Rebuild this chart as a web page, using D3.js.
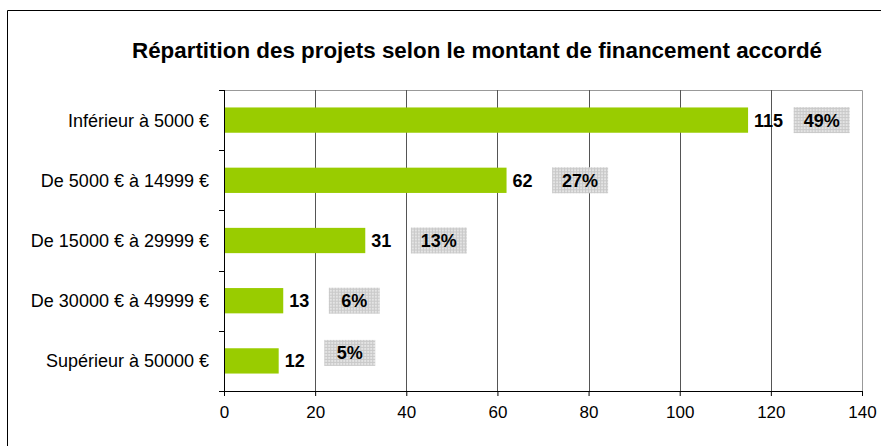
<!DOCTYPE html>
<meta charset="utf-8">
<head>
    <title>Répartition des projets</title>
    <script type="text/javascript" src="https://d3js.org/d3.v7.min.js"></script>
    <style>
        body { margin: 0; background: #fff; }
        svg { font-family: Arial, "Liberation Sans", sans-serif; }
        .cat text { font-size: 18px; fill: #000; }
    </style>
</head>
<body>
    <div id="chart"></div>
    <script>
        // data
        var categories = ["Inférieur à 5000 €", "De 5000 € à 14999 €", "De 15000 € à 29999 €",
                          "De 30000 € à 49999 €", "Supérieur à 50000 €"];
        var counts = [115, 62, 31, 13, 12];
        var shares = ["49%", "27%", "13%", "6%", "5%"];
        var xTicks = [0, 20, 40, 60, 80, 100, 120, 140];
        var title = "Répartition des projets selon le montant de financement accordé";

        var width = 881, height = 446;
        var margin = { top: 90, right: 19, bottom: 55, left: 224 };

        var svg = d3.select("#chart").append("svg")
                    .attr("width", width)
                    .attr("height", height);

        // pattern for the grey percent boxes
        var pat = svg.append("defs").append("pattern")
                     .attr("id", "grid")
                     .attr("width", 3).attr("height", 3)
                     .attr("patternUnits", "userSpaceOnUse");
        pat.append("rect").attr("width", 3).attr("height", 3).attr("fill", "#e4e4e4");
        pat.append("path").attr("d", "M0,0.5H3M0.5,0V3")
           .attr("stroke", "#c8c8c8").attr("stroke-width", 1);

        // outer frame (top + left visible)
        svg.append("path").attr("d", "M7.5,446V10.5H881")
           .attr("fill", "none").attr("stroke", "#000");

        svg.append("text")
           .attr("x", 132).attr("y", 58)
           .attr("font-weight", "bold")
           .attr("font-size", "22px")
           .attr("textLength", 690)
           .attr("lengthAdjust", "spacingAndGlyphs")
           .text(title);

        var x = d3.scaleLinear().domain([0, 140])
                  .range([margin.left, width - margin.right]);
        var y = d3.scaleBand().domain(categories)
                  .range([margin.top, height - margin.bottom])
                  .paddingInner(0.58).paddingOuter(0.29);

        var y0 = margin.top, y1 = height - margin.bottom;

        // plot frame
        svg.append("path")
           .attr("d", `M${x(0)},${y0 + 0.5}H${x(140) + 0.5}V${y1}`)
           .attr("fill", "none").attr("stroke", "#999");

        // gridlines
        svg.append("g").selectAll("line")
           .data(xTicks.slice(1, -1))
           .enter().append("line")
           .attr("x1", function(d) { return Math.round(x(d)) + 0.5; })
           .attr("x2", function(d) { return Math.round(x(d)) + 0.5; })
           .attr("y1", y0).attr("y2", y1)
           .attr("stroke", "#555");

        // bars
        svg.append("g").selectAll("rect")
           .data(counts)
           .enter().append("rect")
           .attr("x", x(0))
           .attr("y", function(d, i) { return y(categories[i]); })
           .attr("width", function(d) { return x(d) - x(0); })
           .attr("height", y.bandwidth())
           .attr("fill", "#99cc00");

        // value labels
        svg.append("g").selectAll("text")
           .data(counts)
           .enter().append("text")
           .attr("x", function(d) { return x(d) + 6; })
           .attr("y", function(d, i) { return y(categories[i]) + y.bandwidth() / 2; })
           .attr("dy", "0.36em")
           .attr("font-size", "18px")
           .attr("font-weight", "bold")
           .text(function(d) { return d; });

        // percent boxes
        var pct = svg.append("g").selectAll("g")
                     .data(shares)
                     .enter().append("g")
                     .attr("transform", function(d, i) {
                         var v = Math.max(counts[i] + 10, 22);
                         return `translate(${x(v)},${y(categories[i]) + y.bandwidth() / 2 - (i == 4 ? 8 : 0)})`;
                     });
        pct.append("rect")
           .attr("x", 0).attr("y", -13)
           .attr("width", function(d) { return d.length > 2 ? 56 : 51; })
           .attr("height", 26)
           .attr("fill", "url(#grid)");
        pct.append("text")
           .attr("x", function(d) { return d.length > 2 ? 28 : 25.5; })
           .attr("dy", "0.36em")
           .attr("text-anchor", "middle")
           .attr("font-size", "18px")
           .attr("font-weight", "bold")
           .text(function(d) { return d; });

        // x axis
        var xAxis = svg.append("g")
                       .attr("transform", `translate(0,${y1})`)
                       .call(d3.axisBottom(x).tickValues(xTicks).tickSize(5).tickSizeOuter(0));
        xAxis.select(".domain").attr("stroke", "#000");
        xAxis.selectAll(".tick line").attr("stroke", "#000");
        xAxis.selectAll("text").attr("font-size", "17px").attr("font-family", "Arial, 'Liberation Sans', sans-serif")
             .attr("fill", "#000").attr("dy", "1.1em");

        // y axis: ticks between categories
        var yAx = svg.append("g").attr("class", "cat");
        yAx.append("line")
           .attr("x1", x(0) + 0.5).attr("x2", x(0) + 0.5)
           .attr("y1", y0).attr("y2", y1 + 5)
           .attr("stroke", "#000");
        yAx.selectAll(".tk")
           .data(d3.range(categories.length + 1))
           .enter().append("line")
           .attr("class", "tk")
           .attr("x1", x(0) - 5).attr("x2", x(0))
           .attr("y1", function(i) { return Math.round(y0 + i * (y1 - y0) / categories.length) + 0.5; })
           .attr("y2", function(i) { return Math.round(y0 + i * (y1 - y0) / categories.length) + 0.5; })
           .attr("stroke", "#000");
        yAx.selectAll("text")
           .data(categories)
           .enter().append("text")
           .attr("x", 209)
           .attr("y", function(d) { return y(d) + y.bandwidth() / 2; })
           .attr("dy", "0.36em")
           .attr("text-anchor", "end")
           .text(function(d) { return d; });
    </script>
</body>
</html>
